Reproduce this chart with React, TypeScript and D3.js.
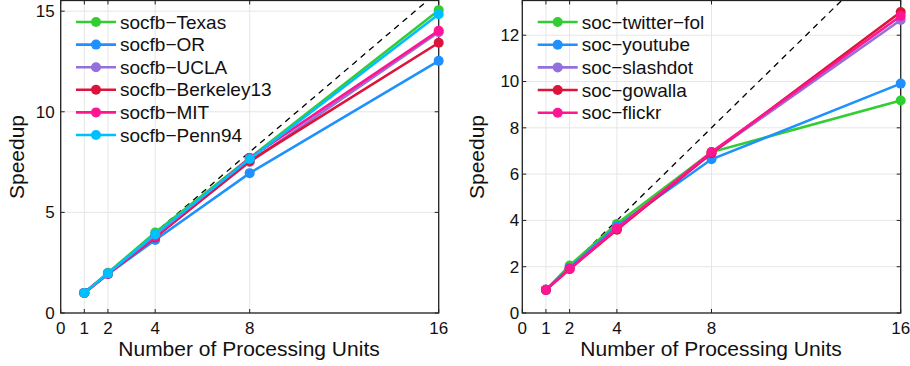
import React from "react";
import * as d3 from "d3";

const xTicks = [0, 1, 2, 4, 8, 16];
const procUnits = [1, 2, 4, 8, 16];
const idealRange = [1, 16];

const leftNames = ["socfb\u2212Texas", "socfb\u2212OR", "socfb\u2212UCLA", "socfb\u2212Berkeley13", "socfb\u2212MIT", "socfb\u2212Penn94"];
const leftColors = ["#32cd32", "#1e90ff", "#9370db", "#dc143c", "#ff1493", "#00bfff"];
const texas = [1, 2.0, 4.0, 7.7, 15.05];
const oregon = [1, 1.93, 3.63, 6.95, 12.53];
const ucla = [1, 1.95, 3.8, 7.5, 13.95];
const berkeley = [1, 1.95, 3.75, 7.55, 13.43];
const mit = [1, 1.95, 3.8, 7.7, 14.03];
const penn = [1, 1.97, 3.9, 7.65, 14.85];
const leftYTicks = [0, 5, 10, 15];

const rightNames = ["soc\u2212twitter\u2212fol", "soc\u2212youtube", "soc\u2212slashdot", "soc\u2212gowalla", "soc\u2212flickr"];
const rightColors = ["#32cd32", "#1e90ff", "#9370db", "#dc143c", "#ff1493"];
const twitter = [1, 2.05, 3.85, 6.95, 9.18];
const youtube = [1, 1.95, 3.75, 6.64, 9.91];
const slashdot = [1, 1.9, 3.65, 6.9, 12.66];
const gowalla = [1, 1.9, 3.6, 6.9, 13.0];
const flickr = [1, 1.9, 3.65, 6.95, 12.83];
const rightYTicks = [0, 2, 4, 6, 8, 10, 12];

const FONT = "'Liberation Sans', Arial, Helvetica, sans-serif";

type PanelProps = {
  x0: number; x1: number; yTop: number; yBottom: number; yMax: number;
  yTicks: number[]; series: number[][]; names: string[]; colors: string[];
  legendX: number; legendY: number[]; tickGap: number; ylabelX: number; titleX: number;
};

function Panel(p: PanelProps) {
  const x = d3.scaleLinear().domain([0, 16]).range([p.x0, p.x1]);
  const y = d3.scaleLinear().domain([0, p.yMax]).range([p.yBottom, p.yTop]);
  const line = d3.line<number>().x((_, i) => x(procUnits[i])).y((d) => y(d));
  const ideal = d3.line<number>().x((d) => x(d)).y((d) => y(d));
  const clipId = "clip" + Math.round(p.x0);
  return (
    <g>
      <defs>
        <clipPath id={clipId}>
          <rect x={p.x0} y={p.yTop} width={p.x1 - p.x0} height={p.yBottom - p.yTop} />
        </clipPath>
      </defs>
      {xTicks.map((t) => (
        <line key={"gx" + t} x1={x(t)} x2={x(t)} y1={p.yTop} y2={p.yBottom} stroke="#e6e6e6" strokeWidth={1} />
      ))}
      {p.yTicks.map((t) => (
        <line key={"gy" + t} x1={p.x0} x2={p.x1} y1={y(t)} y2={y(t)} stroke="#e6e6e6" strokeWidth={1} />
      ))}
      <g clipPath={`url(#${clipId})`}>
        <path d={ideal(idealRange) || ""} stroke="#000" strokeWidth={1.3} strokeDasharray="6,5" fill="none" />
      </g>
      {xTicks.map((t) => (
        <g key={"tx" + t}>
          <line x1={x(t)} x2={x(t)} y1={p.yBottom} y2={p.yBottom - 4} stroke="#222" />
          <line x1={x(t)} x2={x(t)} y1={p.yTop} y2={p.yTop + 4} stroke="#222" />
          <text x={x(t)} y={334} textAnchor="middle" fontSize={17} fontFamily={FONT} fill="#111">{t}</text>
        </g>
      ))}
      {p.yTicks.map((t) => (
        <g key={"ty" + t}>
          <line x1={p.x0} x2={p.x0 + 4} y1={y(t)} y2={y(t)} stroke="#222" />
          <line x1={p.x1} x2={p.x1 - 4} y1={y(t)} y2={y(t)} stroke="#222" />
          <text x={p.x0 - p.tickGap} y={y(t)} dy="0.35em" textAnchor="end" fontSize={17} fontFamily={FONT} fill="#111">{t}</text>
        </g>
      ))}
      <rect x={p.x0} y={p.yTop} width={p.x1 - p.x0} height={p.yBottom - p.yTop} fill="none" stroke="#222" strokeWidth={1.3} />
      {p.series.map((s, k) => (
        <g key={"s" + k}>
          <path d={line(s) || ""} stroke={p.colors[k]} strokeWidth={2.6} fill="none" />
          {s.map((v, i) => (
            <circle key={i} cx={x(procUnits[i])} cy={y(v)} r={5} fill={p.colors[k]} />
          ))}
        </g>
      ))}
      {p.names.map((n, k) => (
        <g key={"lg" + k}>
          <line x1={p.legendX} x2={p.legendX + 40} y1={p.legendY[k]} y2={p.legendY[k]} stroke={p.colors[k]} strokeWidth={2.6} />
          <circle cx={p.legendX + 20} cy={p.legendY[k]} r={5} fill={p.colors[k]} />
          <text x={p.legendX + 44} y={p.legendY[k]} dy="0.35em" fontSize={19} fontFamily={FONT} fill="#111">{n}</text>
        </g>
      ))}
      <text x={p.titleX} y={356} textAnchor="middle" fontSize={21} fontFamily={FONT} fill="#111">Number of Processing Units</text>
      <text transform={`translate(${p.ylabelX},157) rotate(-90)`} textAnchor="middle" fontSize={21} fontFamily={FONT} fill="#111">Speedup</text>
    </g>
  );
}

export default function App() {
  return (
    <svg width={910} height={366} style={{ position: "absolute", left: 0, top: 0, background: "#fff" }}>
      <rect width={910} height={366} fill="#fff" />
      <Panel x0={60.7} x1={438.7} yTop={0.5} yBottom={313} yMax={15.53} yTicks={leftYTicks}
        series={[texas, oregon, ucla, berkeley, mit, penn]} names={leftNames} colors={leftColors}
        legendX={76} legendY={[22, 44.6, 67.2, 89.8, 112.4, 135]} tickGap={6} ylabelX={24} titleX={249} />
      <Panel x0={522.3} x1={900.7} yTop={0.5} yBottom={313} yMax={13.5} yTicks={rightYTicks}
        series={[twitter, youtube, slashdot, gowalla, flickr]} names={rightNames} colors={rightColors}
        legendX={537.7} legendY={[22, 44.7, 67.4, 90, 112.7]} tickGap={3} ylabelX={484} titleX={711} />
    </svg>
  );
}
